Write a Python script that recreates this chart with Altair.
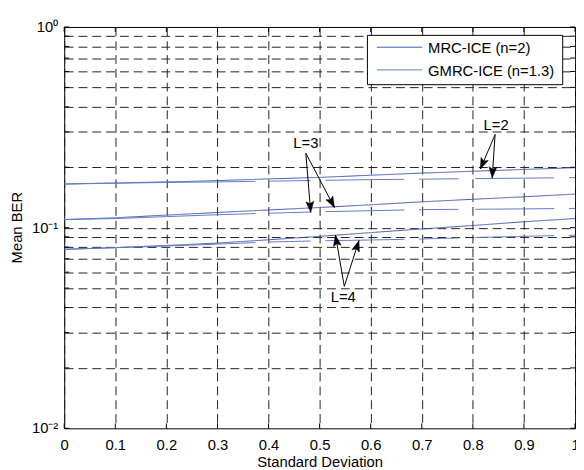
import math
import altair as alt
import pandas as pd

# ---------------- data ----------------
x_vals = [0.0, 0.1, 0.2, 0.3, 0.4, 0.5, 0.6, 0.7, 0.8, 0.9, 1.0]
mrc_L2 = [0.165, 0.167, 0.169, 0.1715, 0.175, 0.178, 0.1825, 0.187, 0.191, 0.195, 0.199]
gmrc_L2 = [0.165, 0.1665, 0.168, 0.169, 0.1705, 0.172, 0.1735, 0.1745, 0.1755, 0.1765, 0.1775]
mrc_L3 = [0.1097, 0.112, 0.1155, 0.119, 0.1225, 0.126, 0.130, 0.1345, 0.1385, 0.1425, 0.147]
gmrc_L3 = [0.1097, 0.111, 0.1135, 0.116, 0.118, 0.120, 0.1215, 0.123, 0.1235, 0.124, 0.1247]
mrc_L4 = [0.078, 0.0795, 0.0815, 0.0838, 0.087, 0.0905, 0.0945, 0.0985, 0.1025, 0.107, 0.111]
gmrc_L4 = [0.078, 0.0795, 0.081, 0.0828, 0.0848, 0.086, 0.0868, 0.0878, 0.0893, 0.0905, 0.0918]

series_names = ["MRC-ICE (n=2)", "GMRC-ICE (n=1.3)"]
x_ticks = [0, 0.1, 0.2, 0.3, 0.4, 0.5, 0.6, 0.7, 0.8, 0.9, 1]
y_grid = [0.02, 0.03, 0.04, 0.05, 0.06, 0.07, 0.08, 0.09, 0.1,
          0.2, 0.3, 0.4, 0.5, 0.6, 0.7, 0.8, 0.9]
y_tick_all = [0.01] + y_grid + [1]
y_label_vals = [1, 0.1, 0.01]
y_label_text = ["10\u2070", "10\u207b\u00b9", "10\u207b\u00b2"]

ann_text = ["L=2", "L=3", "L=4"]
ann_x = [0.8456, 0.473, 0.5463]
ann_y = [0.326, 0.263, 0.045]
arr_x1 = [0.8436, 0.8436, 0.473, 0.473, 0.5483, 0.5483]
arr_y1 = [0.2913, 0.2913, 0.235, 0.235, 0.051, 0.051]
arr_x2 = [0.8147, 0.8378, 0.4826, 0.529, 0.531, 0.577]
arr_y2 = [0.196, 0.177, 0.1192, 0.126, 0.0918, 0.0862]

# ---------------- layout/style ----------------
W, H = 518, 407
FONT = "Liberation Sans"
FS = 15
COLORS = ["#3d5aad", "#5f7cc6"]
GMRC_DASH = [194, 14, 42, 15, 80, 15, 40, 17, 80, 15, 300, 1]
GRID_DASH = [9, 5]
GRID_COLOR = "#222222"

rows = []
for L, (m, g) in {"2": (mrc_L2, gmrc_L2), "3": (mrc_L3, gmrc_L3), "4": (mrc_L4, gmrc_L4)}.items():
    for xv, v in zip(x_vals, m):
        rows.append({"x": xv, "y": v, "series": series_names[0], "curve": "M" + L})
    for xv, v in zip(x_vals, g):
        rows.append({"x": xv, "y": v, "series": series_names[1], "curve": "G" + L})
df_lines = pd.DataFrame(rows)

xscale = alt.Scale(domain=[0, 1], nice=False, zero=False)
yscale = alt.Scale(type="log", domain=[0.01, 1], nice=False)
X_AXIS = alt.Axis(values=x_ticks, format="~g", grid=True, gridDash=GRID_DASH,
                  gridColor=GRID_COLOR, gridWidth=1, ticks=False, domain=False,
                  labelFont=FONT, labelFontSize=FS, labelColor="black",
                  labelPadding=9, labelFlush=False, labelOverlap=False,
                  title="Standard Deviation", titleFont=FONT, titleFontSize=FS,
                  titleFontWeight="normal", titleColor="black", titlePadding=3)
Y_AXIS = alt.Axis(values=y_grid, grid=True, gridDash=GRID_DASH, gridColor=GRID_COLOR,
                  gridWidth=1, labels=False, ticks=False, domain=False, title=None)


def X(field):
    return alt.X(field, scale=xscale, axis=X_AXIS)


def Y(field):
    return alt.Y(field, scale=yscale, axis=Y_AXIS)


lines = alt.Chart(df_lines).mark_line(strokeWidth=1, clip=True).encode(
    x=X("x:Q"),
    y=Y("y:Q"),
    detail="curve:N",
    color=alt.Color("series:N", scale=alt.Scale(domain=series_names, range=COLORS), legend=None),
    strokeDash=alt.StrokeDash("series:N", scale=alt.Scale(domain=series_names,
                                                           range=[[1, 0], GMRC_DASH]), legend=None),
)

# inside ticks
df_xt = pd.DataFrame({"x": x_ticks})
df_yt = pd.DataFrame({"y": y_tick_all})
xt_bot = alt.Chart(df_xt).mark_rule(color="black", strokeWidth=1).encode(
    x=X("x:Q"), y=alt.value(H), y2=alt.value(H - 5))
xt_top = alt.Chart(df_xt).mark_rule(color="black", strokeWidth=1).encode(
    x=X("x:Q"), y=alt.value(0), y2=alt.value(5))
yt_left = alt.Chart(df_yt).mark_rule(color="black", strokeWidth=1).encode(
    y=Y("y:Q"), x=alt.value(0), x2=alt.value(5))
yt_right = alt.Chart(df_yt).mark_rule(color="black", strokeWidth=1).encode(
    y=Y("y:Q"), x=alt.value(W), x2=alt.value(W - 5))

# y tick labels
df_yl = pd.DataFrame({"y": y_label_vals, "t": y_label_text})
ylabels = alt.Chart(df_yl).mark_text(align="right", baseline="middle", font=FONT,
                                     fontSize=FS, color="black").encode(
    y=Y("y:Q"), x=alt.value(-6), text="t:N")

ytitle = alt.Chart(pd.DataFrame({"t": ["Mean BER"]})).mark_text(
    angle=270, align="center", baseline="middle", font=FONT, fontSize=FS, color="black"
).encode(x=alt.value(-48), y=alt.value(H / 2), text="t:N")

# annotations
df_ann = pd.DataFrame({"x": ann_x, "y": ann_y, "t": ann_text})
ann = alt.Chart(df_ann).mark_text(align="center", baseline="middle", font=FONT,
                                  fontSize=FS, color="black").encode(
    x=X("x:Q"), y=Y("y:Q"), text="t:N")

angs = []
for x1, y1, x2, y2 in zip(arr_x1, arr_y1, arr_x2, arr_y2):
    dx = (x2 - x1) * W
    dy = -(math.log10(y2) - math.log10(y1)) * (H / 2)
    angs.append(math.degrees(math.atan2(dx, -dy)) % 360)
df_arr = pd.DataFrame({"x": arr_x1, "y": arr_y1, "x2": arr_x2, "y2": arr_y2, "ang": angs})
arrows = alt.Chart(df_arr).mark_rule(color="black", strokeWidth=1).encode(
    x=X("x:Q"), y=Y("y:Q"), x2="x2:Q", y2="y2:Q")
heads = alt.Chart(df_arr).mark_point(
    shape="M0,0L-0.36,1L0,0.8L0.36,1Z", filled=True, fill="black", stroke="black",
    strokeWidth=0.5, opacity=1, size=484
).encode(
    x=X("x2:Q"), y=Y("y2:Q"),
    angle=alt.Angle("ang:Q", scale=None))

# legend (manual)
leg_box = alt.Chart(pd.DataFrame({"a": [0]})).mark_rect(
    fill="white", stroke="black", strokeWidth=1).encode(
    x=alt.value(307.5), x2=alt.value(505.5), y=alt.value(8.5), y2=alt.value(58.5))
leg_l1 = alt.Chart(pd.DataFrame({"a": [0]})).mark_rule(color=COLORS[0], strokeWidth=1).encode(
    x=alt.value(317), x2=alt.value(363), y=alt.value(20.5))
leg_l2 = alt.Chart(pd.DataFrame({"a": [0]})).mark_rule(color=COLORS[1], strokeWidth=1).encode(
    x=alt.value(317), x2=alt.value(363), y=alt.value(43.5))
leg_t1 = alt.Chart(pd.DataFrame({"t": [series_names[0]]})).mark_text(
    align="left", baseline="middle", font=FONT, fontSize=FS, color="black").encode(
    x=alt.value(369), y=alt.value(21.5), text="t:N")
leg_t2 = alt.Chart(pd.DataFrame({"t": [series_names[1]]})).mark_text(
    align="left", baseline="middle", font=FONT, fontSize=FS, color="black").encode(
    x=alt.value(369), y=alt.value(44.5), text="t:N")

chart = alt.layer(
    lines, xt_bot, xt_top, yt_left, yt_right, ylabels, ytitle, arrows, heads, ann,
    leg_box, leg_l1, leg_l2, leg_t1, leg_t2
).properties(
    width=W, height=H,
    autosize=alt.AutoSizeParams(type="none"),
    padding={"left": 57, "top": 16, "right": 1, "bottom": 39},
    background="white",
).configure_view(stroke="black", strokeWidth=1)

chart.save("out.html", embed_options={"renderer": "svg", "actions": False})
